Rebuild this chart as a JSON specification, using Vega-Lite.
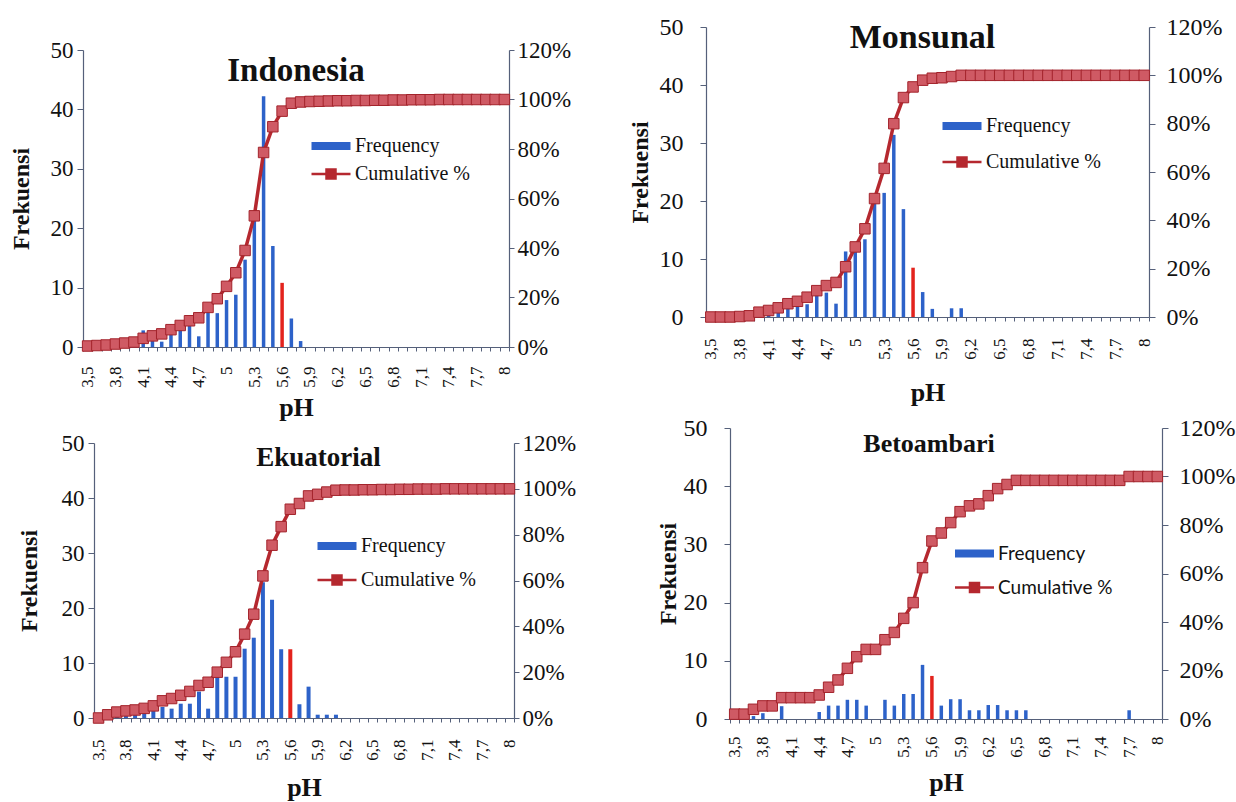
{
"$schema": "https://vega.github.io/schema/vega-lite/v6.json",
"background": "white",
"padding": {"left": 9, "top": 15, "right": 5, "bottom": 5},
"config": {
  "view": {"stroke": null},
  "font": "Liberation Serif",
  "axis": {"labelFont": "Liberation Serif", "titleFont": "Liberation Serif", "labelColor": "#111", "titleColor": "#111", "domainColor": "#55607a", "tickColor": "#55607a", "domainWidth": 1.2, "grid": false},
  "title": {"font": "Liberation Serif", "fontWeight": "bold", "color": "#111", "anchor": "middle", "baseline": "middle", "frame": "group"}
},
"datasets": {
  "ind": [{"ph":"3,5","f":0,"c":0.004},{"ph":"3,6","f":0,"c":0.006},{"ph":"3,7","f":0,"c":0.008},{"ph":"3,8","f":0,"c":0.012},{"ph":"3,9","f":0,"c":0.016},{"ph":"4","f":0,"c":0.02},{"ph":"4,1","f":2.8,"c":0.035},{"ph":"4,2","f":1.5,"c":0.045},{"ph":"4,3","f":0.9,"c":0.053},{"ph":"4,4","f":2.3,"c":0.07},{"ph":"4,5","f":3.1,"c":0.087},{"ph":"4,6","f":3.9,"c":0.106},{"ph":"4,7","f":1.8,"c":0.118},{"ph":"4,8","f":6.4,"c":0.16},{"ph":"4,9","f":5.7,"c":0.195},{"ph":"5","f":7.9,"c":0.245},{"ph":"5,1","f":8.8,"c":0.3},{"ph":"5,2","f":14.7,"c":0.39},{"ph":"5,3","f":21.3,"c":0.53},{"ph":"5,4","f":42.2,"c":0.786},{"ph":"5,5","f":17,"c":0.89},{"ph":"5,6","f":10.8,"c":0.953},{"ph":"5,7","f":4.8,"c":0.985},{"ph":"5,8","f":1,"c":0.99},{"ph":"5,9","f":0,"c":0.992},{"ph":"6","f":0,"c":0.993},{"ph":"6,1","f":0,"c":0.994},{"ph":"6,2","f":0,"c":0.995},{"ph":"6,3","f":0,"c":0.995},{"ph":"6,4","f":0,"c":0.996},{"ph":"6,5","f":0,"c":0.996},{"ph":"6,6","f":0,"c":0.997},{"ph":"6,7","f":0,"c":0.997},{"ph":"6,8","f":0,"c":0.998},{"ph":"6,9","f":0,"c":0.998},{"ph":"7","f":0,"c":0.999},{"ph":"7,1","f":0,"c":0.999},{"ph":"7,2","f":0,"c":0.999},{"ph":"7,3","f":0,"c":1},{"ph":"7,4","f":0,"c":1},{"ph":"7,5","f":0,"c":1},{"ph":"7,6","f":0,"c":1},{"ph":"7,7","f":0,"c":1},{"ph":"7,8","f":0,"c":1},{"ph":"7,9","f":0,"c":1},{"ph":"8","f":0,"c":1}],
  "mon": [{"ph":"3,5","f":0,"c":0},{"ph":"3,6","f":0,"c":0},{"ph":"3,7","f":0,"c":0},{"ph":"3,8","f":0,"c":0.002},{"ph":"3,9","f":0,"c":0.005},{"ph":"4","f":1.1,"c":0.02},{"ph":"4,1","f":0.7,"c":0.027},{"ph":"4,2","f":1.1,"c":0.038},{"ph":"4,3","f":1.7,"c":0.055},{"ph":"4,4","f":2.5,"c":0.065},{"ph":"4,5","f":2.2,"c":0.082},{"ph":"4,6","f":4,"c":0.109},{"ph":"4,7","f":4.2,"c":0.13},{"ph":"4,8","f":2.3,"c":0.143},{"ph":"4,9","f":11.3,"c":0.208},{"ph":"5","f":11.3,"c":0.29},{"ph":"5,1","f":13.4,"c":0.365},{"ph":"5,2","f":20,"c":0.49},{"ph":"5,3","f":21.4,"c":0.615},{"ph":"5,4","f":31.4,"c":0.8},{"ph":"5,5","f":18.6,"c":0.908},{"ph":"5,6","f":8.5,"c":0.952},{"ph":"5,7","f":4.3,"c":0.98},{"ph":"5,8","f":1.4,"c":0.988},{"ph":"5,9","f":0,"c":0.99},{"ph":"6","f":1.5,"c":0.995},{"ph":"6,1","f":1.5,"c":1},{"ph":"6,2","f":0,"c":1},{"ph":"6,3","f":0,"c":1},{"ph":"6,4","f":0,"c":1},{"ph":"6,5","f":0,"c":1},{"ph":"6,6","f":0,"c":1},{"ph":"6,7","f":0,"c":1},{"ph":"6,8","f":0,"c":1},{"ph":"6,9","f":0,"c":1},{"ph":"7","f":0,"c":1},{"ph":"7,1","f":0,"c":1},{"ph":"7,2","f":0,"c":1},{"ph":"7,3","f":0,"c":1},{"ph":"7,4","f":0,"c":1},{"ph":"7,5","f":0,"c":1},{"ph":"7,6","f":0,"c":1},{"ph":"7,7","f":0,"c":1},{"ph":"7,8","f":0,"c":1},{"ph":"7,9","f":0,"c":1},{"ph":"8","f":0,"c":1}],
  "eku": [{"ph":"3,5","f":0,"c":0},{"ph":"3,6","f":1,"c":0.014},{"ph":"3,7","f":1.5,"c":0.026},{"ph":"3,8","f":1,"c":0.031},{"ph":"3,9","f":0.7,"c":0.035},{"ph":"4","f":1,"c":0.042},{"ph":"4,1","f":1.7,"c":0.053},{"ph":"4,2","f":2,"c":0.075},{"ph":"4,3","f":1.7,"c":0.085},{"ph":"4,4","f":2.6,"c":0.099},{"ph":"4,5","f":2.6,"c":0.116},{"ph":"4,6","f":4.8,"c":0.142},{"ph":"4,7","f":1.7,"c":0.156},{"ph":"4,8","f":7.5,"c":0.2},{"ph":"4,9","f":7.5,"c":0.243},{"ph":"5","f":7.5,"c":0.289},{"ph":"5,1","f":12.6,"c":0.366},{"ph":"5,2","f":14.6,"c":0.453},{"ph":"5,3","f":24.7,"c":0.62},{"ph":"5,4","f":21.5,"c":0.754},{"ph":"5,5","f":12.5,"c":0.835},{"ph":"5,6","f":12.5,"c":0.911},{"ph":"5,7","f":2.5,"c":0.936},{"ph":"5,8","f":5.7,"c":0.969},{"ph":"5,9","f":0.6,"c":0.976},{"ph":"6","f":0.6,"c":0.986},{"ph":"6,1","f":0.6,"c":0.994},{"ph":"6,2","f":0,"c":0.995},{"ph":"6,3","f":0,"c":0.995},{"ph":"6,4","f":0,"c":0.996},{"ph":"6,5","f":0,"c":0.996},{"ph":"6,6","f":0,"c":0.997},{"ph":"6,7","f":0,"c":0.997},{"ph":"6,8","f":0,"c":0.998},{"ph":"6,9","f":0,"c":0.998},{"ph":"7","f":0,"c":0.999},{"ph":"7,1","f":0,"c":0.999},{"ph":"7,2","f":0,"c":0.999},{"ph":"7,3","f":0,"c":1},{"ph":"7,4","f":0,"c":1},{"ph":"7,5","f":0,"c":1},{"ph":"7,6","f":0,"c":1},{"ph":"7,7","f":0,"c":1},{"ph":"7,8","f":0,"c":1},{"ph":"7,9","f":0,"c":1},{"ph":"8","f":0,"c":1}],
  "bet": [{"ph":"3,5","f":0,"c":0.02},{"ph":"3,6","f":0,"c":0.02},{"ph":"3,7","f":0.5,"c":0.04},{"ph":"3,8","f":1,"c":0.054},{"ph":"3,9","f":0,"c":0.054},{"ph":"4","f":2.2,"c":0.088},{"ph":"4,1","f":0,"c":0.088},{"ph":"4,2","f":0,"c":0.088},{"ph":"4,3","f":0,"c":0.088},{"ph":"4,4","f":1.2,"c":0.099},{"ph":"4,5","f":2.3,"c":0.131},{"ph":"4,6","f":2.3,"c":0.161},{"ph":"4,7","f":3.3,"c":0.209},{"ph":"4,8","f":3.3,"c":0.257},{"ph":"4,9","f":2.3,"c":0.287},{"ph":"5","f":0,"c":0.287},{"ph":"5,1","f":3.3,"c":0.327},{"ph":"5,2","f":2.3,"c":0.357},{"ph":"5,3","f":4.3,"c":0.415},{"ph":"5,4","f":4.3,"c":0.48},{"ph":"5,5","f":9.3,"c":0.624},{"ph":"5,6","f":7.4,"c":0.734},{"ph":"5,7","f":2.3,"c":0.767},{"ph":"5,8","f":3.4,"c":0.81},{"ph":"5,9","f":3.4,"c":0.855},{"ph":"6","f":1.5,"c":0.879},{"ph":"6,1","f":1.5,"c":0.887},{"ph":"6,2","f":2.4,"c":0.921},{"ph":"6,3","f":2.4,"c":0.95},{"ph":"6,4","f":1.5,"c":0.967},{"ph":"6,5","f":1.5,"c":0.984},{"ph":"6,6","f":1.5,"c":0.984},{"ph":"6,7","f":0,"c":0.984},{"ph":"6,8","f":0,"c":0.984},{"ph":"6,9","f":0,"c":0.984},{"ph":"7","f":0,"c":0.984},{"ph":"7,1","f":0,"c":0.984},{"ph":"7,2","f":0,"c":0.984},{"ph":"7,3","f":0,"c":0.984},{"ph":"7,4","f":0,"c":0.984},{"ph":"7,5","f":0,"c":0.984},{"ph":"7,6","f":0,"c":0.984},{"ph":"7,7","f":1.5,"c":1},{"ph":"7,8","f":0,"c":1},{"ph":"7,9","f":0,"c":1},{"ph":"8","f":0,"c":1}]
},
"hconcat": [
  {
    "vconcat": [
      {
        "width": 426, "height": 320,
        "title": {"text": "Indonesia", "fontSize": 33, "offset": -61},
        "data": {"name": "ind"},
        "encoding": {"x": {"field": "ph", "type": "ordinal", "sort": null,
          "scale": {"domain": ["3,5","3,6","3,7","3,8","3,9","4","4,1","4,2","4,3","4,4","4,5","4,6","4,7","4,8","4,9","5","5,1","5,2","5,3","5,4","5,5","5,6","5,7","5,8","5,9","6","6,1","6,2","6,3","6,4","6,5","6,6","6,7","6,8","6,9","7","7,1","7,2","7,3","7,4","7,5","7,6","7,7","7,8","7,9","8"], "paddingInner": 0, "paddingOuter": 0},
          "axis": {"title": "pH", "titleFontSize": 26, "titleFontWeight": "bold", "titlePadding": 7, "labelAngle": -90, "labelFontSize": 17, "labelPadding": 15, "tickSize": 4, "tickBand": "extent", "labelOverlap": false,
            "labelExpr": "indexof(['3,5','3,8','4,1','4,4','4,7','5','5,3','5,6','5,9','6,2','6,5','6,8','7,1','7,4','7,7','8'], datum.value) >= 0 ? datum.label : ''"}}},
        "layer": [
          {"encoding": {"y": {"field": "f", "type": "quantitative", "scale": {"domain": [0, 50], "range": [320, 23], "nice": false},
              "axis": {"orient": "left", "values": [0,10,20,30,40,50], "title": "Frekuensi", "titleFontSize": 24, "titleFontWeight": "bold", "titlePadding": 17, "labelFontSize": 23, "tickSize": 6, "labelPadding": 4}}},
           "layer": [
             {"transform": [{"filter": "datum.ph !== '5,6'"}], "mark": {"type": "bar", "size": 3.5},
              "encoding": {"color": {"datum": "Frequency", "scale": {"domain": ["Frequency", "Cumulative %"], "range": ["#2d62c9", "#b5282f"]},
                "legend": {"orient": "none", "legendX": 238, "legendY": 109, "title": null, "symbolSize": 900, "labelFontSize": 20, "labelFont": "Liberation Serif", "labelColor": "#111", "labelOffset": 14, "padding": 0, "rowPadding": 8,
                  "encode": {"symbols": {"update": {"shape": {"signal": "datum.value === 'Frequency' ? 'M-1.3,-0.27H1.3V0.27H-1.3Z' : 'M-1.3,0H1.3M-0.3,-0.3H0.3V0.3H-0.3Z'"}, "fill": {"signal": "datum.value === 'Frequency' ? '#2d62c9' : '#cf5a64'"}, "stroke": {"signal": "datum.value === 'Frequency' ? '#2d62c9' : '#b5282f'"}, "strokeWidth": {"signal": "datum.value === 'Frequency' ? 0 : 2.5"}, "opacity": {"value": 1}}}}}}}},
             {"transform": [{"filter": "datum.ph === '5,6'"}], "mark": {"type": "bar", "size": 3.5, "color": "#e3231d"}}
           ]},
          {"encoding": {"y": {"field": "c", "type": "quantitative", "scale": {"domain": [0, 1.2], "range": [320, 23], "nice": false},
              "axis": {"orient": "right", "format": ".0%", "values": [0,0.2,0.4,0.6,0.8,1,1.2], "title": null, "labelFontSize": 23, "tickSize": 5, "labelPadding": 3}}},
           "layer": [
             {"mark": {"type": "line", "strokeWidth": 3.5},
              "encoding": {"color": {"datum": "Cumulative %", "scale": {"domain": ["Frequency", "Cumulative %"], "range": ["#2d62c9", "#b5282f"]},
                "legend": {"orient": "none", "legendX": 238, "legendY": 109, "title": null, "symbolSize": 900, "labelFontSize": 20, "labelFont": "Liberation Serif", "labelColor": "#111", "labelOffset": 14, "padding": 0, "rowPadding": 8,
                  "encode": {"symbols": {"update": {"shape": {"signal": "datum.value === 'Frequency' ? 'M-1.3,-0.27H1.3V0.27H-1.3Z' : 'M-1.3,0H1.3M-0.3,-0.3H0.3V0.3H-0.3Z'"}, "fill": {"signal": "datum.value === 'Frequency' ? '#2d62c9' : '#cf5a64'"}, "stroke": {"signal": "datum.value === 'Frequency' ? '#2d62c9' : '#b5282f'"}, "strokeWidth": {"signal": "datum.value === 'Frequency' ? 0 : 2.5"}, "opacity": {"value": 1}}}}}}}},
             {"mark": {"type": "square", "size": 110, "filled": true, "fill": "#cf5a64", "stroke": "#a3232b", "strokeWidth": 1, "opacity": 1}}
           ]}
        ],
        "resolve": {"scale": {"y": "independent"}}
      },
      {
        "width": 431, "height": 275,
        "title": {"text": "Ekuatorial", "fontSize": 27, "offset": -40, "dx": 20},
        "data": {"name": "eku"},
        "encoding": {"x": {"field": "ph", "type": "ordinal", "sort": null,
          "scale": {"domain": ["3,5","3,6","3,7","3,8","3,9","4","4,1","4,2","4,3","4,4","4,5","4,6","4,7","4,8","4,9","5","5,1","5,2","5,3","5,4","5,5","5,6","5,7","5,8","5,9","6","6,1","6,2","6,3","6,4","6,5","6,6","6,7","6,8","6,9","7","7,1","7,2","7,3","7,4","7,5","7,6","7,7","7,8","7,9","8"], "range": [11, 431], "paddingInner": 0, "paddingOuter": 0},
          "axis": {"title": "pH", "titleFontSize": 26, "titleFontWeight": "bold", "titlePadding": 14, "labelAngle": -90, "labelFontSize": 17, "labelPadding": 17, "tickSize": 4, "tickBand": "extent", "labelOverlap": false,
            "labelExpr": "indexof(['3,5','3,8','4,1','4,4','4,7','5','5,3','5,6','5,9','6,2','6,5','6,8','7,1','7,4','7,7','8'], datum.value) >= 0 ? datum.label : ''"}}},
        "layer": [
          {"encoding": {"y": {"field": "f", "type": "quantitative", "scale": {"domain": [0, 50], "nice": false},
              "axis": {"orient": "left", "offset": -11, "values": [0,10,20,30,40,50], "title": "Frekuensi", "titleFontSize": 24, "titleFontWeight": "bold", "titlePadding": 20, "labelFontSize": 23, "tickSize": 6, "labelPadding": 4}}},
           "layer": [
             {"transform": [{"filter": "datum.ph !== '5,6'"}], "mark": {"type": "bar", "size": 4},
              "encoding": {"color": {"datum": "Frequency", "scale": {"domain": ["Frequency", "Cumulative %"], "range": ["#2d62c9", "#b5282f"]},
                "legend": {"orient": "none", "legendX": 244, "legendY": 93, "title": null, "symbolSize": 900, "labelFontSize": 20, "labelFont": "Liberation Serif", "labelColor": "#111", "labelOffset": 14, "padding": 0, "rowPadding": 14,
                  "encode": {"symbols": {"update": {"shape": {"signal": "datum.value === 'Frequency' ? 'M-1.3,-0.27H1.3V0.27H-1.3Z' : 'M-1.3,0H1.3M-0.3,-0.3H0.3V0.3H-0.3Z'"}, "fill": {"signal": "datum.value === 'Frequency' ? '#2d62c9' : '#cf5a64'"}, "stroke": {"signal": "datum.value === 'Frequency' ? '#2d62c9' : '#b5282f'"}, "strokeWidth": {"signal": "datum.value === 'Frequency' ? 0 : 2.5"}, "opacity": {"value": 1}}}}}}}},
             {"transform": [{"filter": "datum.ph === '5,6'"}], "mark": {"type": "bar", "size": 4, "color": "#e3231d"}}
           ]},
          {"encoding": {"y": {"field": "c", "type": "quantitative", "scale": {"domain": [0, 1.2], "nice": false},
              "axis": {"orient": "right", "format": ".0%", "values": [0,0.2,0.4,0.6,0.8,1,1.2], "title": null, "labelFontSize": 23, "tickSize": 5, "labelPadding": 3}}},
           "layer": [
             {"mark": {"type": "line", "strokeWidth": 3.5},
              "encoding": {"color": {"datum": "Cumulative %", "scale": {"domain": ["Frequency", "Cumulative %"], "range": ["#2d62c9", "#b5282f"]},
                "legend": {"orient": "none", "legendX": 244, "legendY": 93, "title": null, "symbolSize": 900, "labelFontSize": 20, "labelFont": "Liberation Serif", "labelColor": "#111", "labelOffset": 14, "padding": 0, "rowPadding": 14,
                  "encode": {"symbols": {"update": {"shape": {"signal": "datum.value === 'Frequency' ? 'M-1.3,-0.27H1.3V0.27H-1.3Z' : 'M-1.3,0H1.3M-0.3,-0.3H0.3V0.3H-0.3Z'"}, "fill": {"signal": "datum.value === 'Frequency' ? '#2d62c9' : '#cf5a64'"}, "stroke": {"signal": "datum.value === 'Frequency' ? '#2d62c9' : '#b5282f'"}, "strokeWidth": {"signal": "datum.value === 'Frequency' ? 0 : 2.5"}, "opacity": {"value": 1}}}}}}}},
             {"mark": {"type": "square", "size": 110, "filled": true, "fill": "#cf5a64", "stroke": "#a3232b", "strokeWidth": 1, "opacity": 1}}
           ]}
        ],
        "resolve": {"scale": {"y": "independent"}}
      }
    ],
    "spacing": 11,
    "resolve": {"scale": {"color": "independent", "x": "independent", "y": "independent"}, "legend": {"color": "independent"}}
  },
  {
    "vconcat": [
      {
        "width": 443, "height": 290,
        "title": {"text": "Monsunal", "fontSize": 34, "offset": -40, "dx": -5},
        "data": {"name": "mon"},
        "encoding": {"x": {"field": "ph", "type": "ordinal", "sort": null,
          "scale": {"domain": ["3,5","3,6","3,7","3,8","3,9","4","4,1","4,2","4,3","4,4","4,5","4,6","4,7","4,8","4,9","5","5,1","5,2","5,3","5,4","5,5","5,6","5,7","5,8","5,9","6","6,1","6,2","6,3","6,4","6,5","6,6","6,7","6,8","6,9","7","7,1","7,2","7,3","7,4","7,5","7,6","7,7","7,8","7,9","8"], "paddingInner": 0, "paddingOuter": 0},
          "axis": {"title": "pH", "titleFontSize": 26, "titleFontWeight": "bold", "titlePadding": 20, "labelAngle": -90, "labelFontSize": 17, "labelPadding": 17, "tickSize": 4, "tickBand": "extent", "labelOverlap": false,
            "labelExpr": "indexof(['3,5','3,8','4,1','4,4','4,7','5','5,3','5,6','5,9','6,2','6,5','6,8','7,1','7,4','7,7','8'], datum.value) >= 0 ? datum.label : ''"}}},
        "layer": [
          {"encoding": {"y": {"field": "f", "type": "quantitative", "scale": {"domain": [0, 50], "nice": false},
              "axis": {"orient": "left", "values": [0,10,20,30,40,50], "title": "Frekuensi", "titleFontSize": 24, "titleFontWeight": "bold", "titlePadding": 7, "labelFontSize": 24, "tickSize": 6, "labelPadding": 17}}},
           "layer": [
             {"transform": [{"filter": "datum.ph !== '5,6'"}], "mark": {"type": "bar", "size": 3.5},
              "encoding": {"color": {"datum": "Frequency", "scale": {"domain": ["Frequency", "Cumulative %"], "range": ["#2d62c9", "#b5282f"]},
                "legend": {"orient": "none", "legendX": 246, "legendY": 89, "title": null, "symbolSize": 900, "labelFontSize": 20, "labelFont": "Liberation Serif", "labelColor": "#111", "labelOffset": 14, "padding": 0, "rowPadding": 16,
                  "encode": {"symbols": {"update": {"shape": {"signal": "datum.value === 'Frequency' ? 'M-1.3,-0.27H1.3V0.27H-1.3Z' : 'M-1.3,0H1.3M-0.3,-0.3H0.3V0.3H-0.3Z'"}, "fill": {"signal": "datum.value === 'Frequency' ? '#2d62c9' : '#cf5a64'"}, "stroke": {"signal": "datum.value === 'Frequency' ? '#2d62c9' : '#b5282f'"}, "strokeWidth": {"signal": "datum.value === 'Frequency' ? 0 : 2.5"}, "opacity": {"value": 1}}}}}}}},
             {"transform": [{"filter": "datum.ph === '5,6'"}], "mark": {"type": "bar", "size": 3.5, "color": "#e3231d"}}
           ]},
          {"encoding": {"y": {"field": "c", "type": "quantitative", "scale": {"domain": [0, 1.2], "nice": false},
              "axis": {"orient": "right", "format": ".0%", "values": [0,0.2,0.4,0.6,0.8,1,1.2], "title": null, "labelFontSize": 24, "tickSize": 6, "labelPadding": 11}}},
           "layer": [
             {"mark": {"type": "line", "strokeWidth": 3.5},
              "encoding": {"color": {"datum": "Cumulative %", "scale": {"domain": ["Frequency", "Cumulative %"], "range": ["#2d62c9", "#b5282f"]},
                "legend": {"orient": "none", "legendX": 246, "legendY": 89, "title": null, "symbolSize": 900, "labelFontSize": 20, "labelFont": "Liberation Serif", "labelColor": "#111", "labelOffset": 14, "padding": 0, "rowPadding": 16,
                  "encode": {"symbols": {"update": {"shape": {"signal": "datum.value === 'Frequency' ? 'M-1.3,-0.27H1.3V0.27H-1.3Z' : 'M-1.3,0H1.3M-0.3,-0.3H0.3V0.3H-0.3Z'"}, "fill": {"signal": "datum.value === 'Frequency' ? '#2d62c9' : '#cf5a64'"}, "stroke": {"signal": "datum.value === 'Frequency' ? '#2d62c9' : '#b5282f'"}, "strokeWidth": {"signal": "datum.value === 'Frequency' ? 0 : 2.5"}, "opacity": {"value": 1}}}}}}}},
             {"mark": {"type": "square", "size": 110, "filled": true, "fill": "#cf5a64", "stroke": "#a3232b", "strokeWidth": 1, "opacity": 1}}
           ]}
        ],
        "resolve": {"scale": {"y": "independent"}}
      },
      {
        "width": 456, "height": 291,
        "title": {"text": "Betoambari", "fontSize": 26, "offset": -41, "dx": -5},
        "data": {"name": "bet"},
        "encoding": {"x": {"field": "ph", "type": "ordinal", "sort": null,
          "scale": {"domain": ["3,5","3,6","3,7","3,8","3,9","4","4,1","4,2","4,3","4,4","4,5","4,6","4,7","4,8","4,9","5","5,1","5,2","5,3","5,4","5,5","5,6","5,7","5,8","5,9","6","6,1","6,2","6,3","6,4","6,5","6,6","6,7","6,8","6,9","7","7,1","7,2","7,3","7,4","7,5","7,6","7,7","7,8","7,9","8"], "range": [24, 456], "paddingInner": 0, "paddingOuter": 0},
          "axis": {"title": "pH", "titleFontSize": 26, "titleFontWeight": "bold", "titlePadding": 12, "labelAngle": -90, "labelFontSize": 17, "labelPadding": 13, "tickSize": 4, "tickBand": "extent", "labelOverlap": false,
            "labelExpr": "indexof(['3,5','3,8','4,1','4,4','4,7','5','5,3','5,6','5,9','6,2','6,5','6,8','7,1','7,4','7,7','8'], datum.value) >= 0 ? datum.label : ''"}}},
        "layer": [
          {"encoding": {"y": {"field": "f", "type": "quantitative", "scale": {"domain": [0, 50], "nice": false},
              "axis": {"orient": "left", "offset": -24, "values": [0,10,20,30,40,50], "title": "Frekuensi", "titleFontSize": 24, "titleFontWeight": "bold", "titlePadding": 3, "labelFontSize": 24, "tickSize": 6, "labelPadding": 17}}},
           "layer": [
             {"transform": [{"filter": "datum.ph !== '5,6'"}], "mark": {"type": "bar", "size": 3.5},
              "encoding": {"color": {"datum": "Frequency", "scale": {"domain": ["Frequency", "Cumulative %"], "range": ["#2d62c9", "#b5282f"]},
                "legend": {"orient": "none", "legendX": 259, "legendY": 116, "title": null, "symbolSize": 900, "labelFontSize": 19, "labelFont": "Lato", "labelColor": "#111", "labelOffset": 14, "padding": 0, "rowPadding": 14,
                  "encode": {"symbols": {"update": {"shape": {"signal": "datum.value === 'Frequency' ? 'M-1.3,-0.27H1.3V0.27H-1.3Z' : 'M-1.3,0H1.3M-0.3,-0.3H0.3V0.3H-0.3Z'"}, "fill": {"signal": "datum.value === 'Frequency' ? '#2d62c9' : '#cf5a64'"}, "stroke": {"signal": "datum.value === 'Frequency' ? '#2d62c9' : '#b5282f'"}, "strokeWidth": {"signal": "datum.value === 'Frequency' ? 0 : 2.5"}, "opacity": {"value": 1}}}}}}}},
             {"transform": [{"filter": "datum.ph === '5,6'"}], "mark": {"type": "bar", "size": 3.5, "color": "#e3231d"}}
           ]},
          {"encoding": {"y": {"field": "c", "type": "quantitative", "scale": {"domain": [0, 1.2], "nice": false},
              "axis": {"orient": "right", "format": ".0%", "values": [0,0.2,0.4,0.6,0.8,1,1.2], "title": null, "labelFontSize": 24, "tickSize": 6, "labelPadding": 11}}},
           "layer": [
             {"mark": {"type": "line", "strokeWidth": 3.5},
              "encoding": {"color": {"datum": "Cumulative %", "scale": {"domain": ["Frequency", "Cumulative %"], "range": ["#2d62c9", "#b5282f"]},
                "legend": {"orient": "none", "legendX": 259, "legendY": 116, "title": null, "symbolSize": 900, "labelFontSize": 19, "labelFont": "Lato", "labelColor": "#111", "labelOffset": 14, "padding": 0, "rowPadding": 14,
                  "encode": {"symbols": {"update": {"shape": {"signal": "datum.value === 'Frequency' ? 'M-1.3,-0.27H1.3V0.27H-1.3Z' : 'M-1.3,0H1.3M-0.3,-0.3H0.3V0.3H-0.3Z'"}, "fill": {"signal": "datum.value === 'Frequency' ? '#2d62c9' : '#cf5a64'"}, "stroke": {"signal": "datum.value === 'Frequency' ? '#2d62c9' : '#b5282f'"}, "strokeWidth": {"signal": "datum.value === 'Frequency' ? 0 : 2.5"}, "opacity": {"value": 1}}}}}}}},
             {"mark": {"type": "square", "size": 110, "filled": true, "fill": "#cf5a64", "stroke": "#a3232b", "strokeWidth": 1, "opacity": 1}}
           ]}
        ],
        "resolve": {"scale": {"y": "independent"}}
      }
    ],
    "spacing": 10,
    "resolve": {"scale": {"color": "independent", "x": "independent", "y": "independent"}, "legend": {"color": "independent"}}
  }
],
"spacing": 52,
"resolve": {"scale": {"color": "independent", "x": "independent", "y": "independent"}, "legend": {"color": "independent"}}
}
